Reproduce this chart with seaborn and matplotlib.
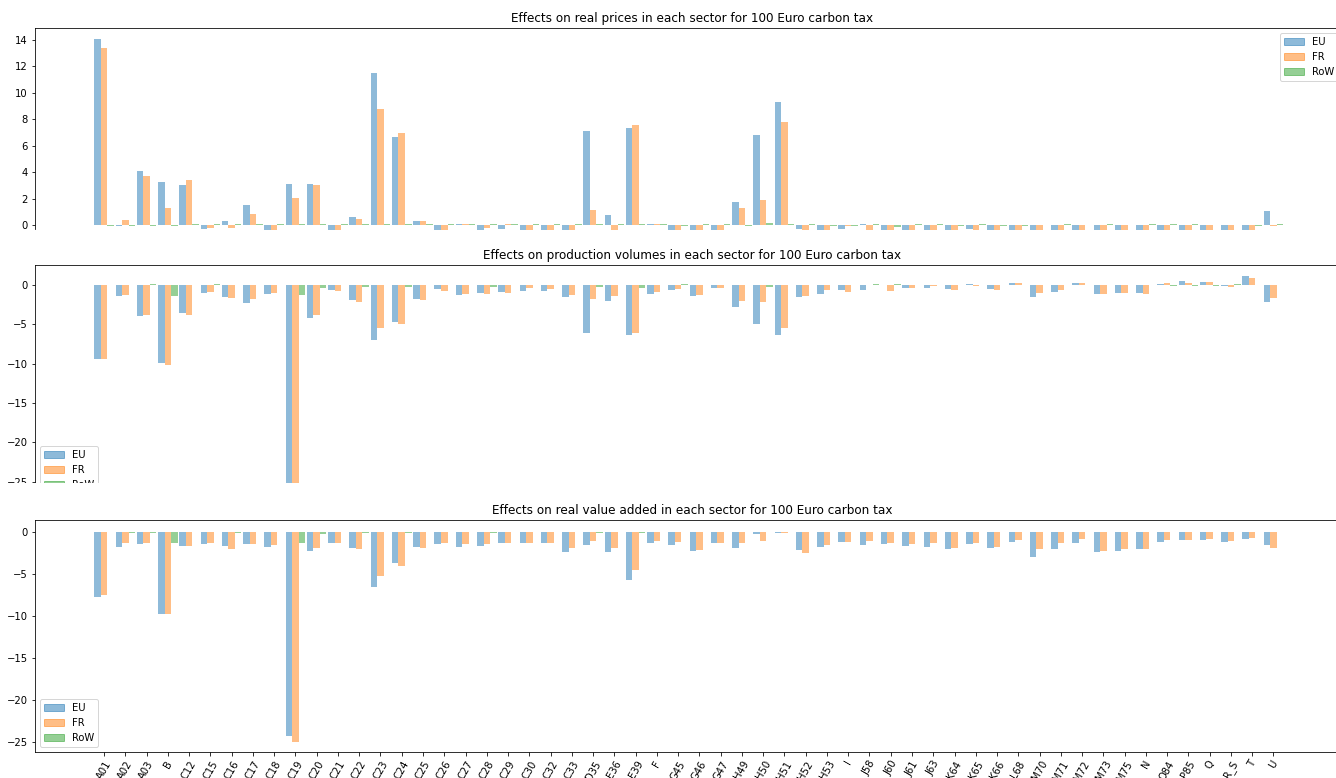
import numpy as np
import pandas as pd
import matplotlib
matplotlib.use('Agg')
import matplotlib.pyplot as plt
import matplotlib.patches as mpatches
import seaborn as sns

plt.rcParams['font.family'] = ['DejaVu Sans']

sectors = ['A01', 'A02', 'A03', 'B', 'C12', 'C15', 'C16', 'C17', 'C18', 'C19',
           'C20', 'C21', 'C22', 'C23', 'C24', 'C25', 'C26', 'C27', 'C28', 'C29',
           'C30', 'C32', 'C33', 'D35', 'E36', 'E39', 'F', 'G45', 'G46', 'G47',
           'H49', 'H50', 'H51', 'H52', 'H53', 'I', 'J58', 'J60', 'J61', 'J63',
           'K64', 'K65', 'K66', 'L68', 'M70', 'M71', 'M72', 'M73', 'M75', 'N',
           'O84', 'P85', 'Q', 'R_S', 'T', 'U']
regions = ['EU', 'FR', 'RoW']

# Effects on real prices
price_eu = [14.05, -0.05, 4.09, 3.25, 3.03, -0.3, 0.3, 1.51, -0.4, 3.1,
            3.1, -0.4, 0.6, 11.5, 6.66, 0.3, -0.4, 0.05, -0.4, -0.3,
            -0.4, -0.4, -0.4, 7.11, 0.76, 7.34, 0.05, -0.4, -0.4, -0.4,
            1.74, 6.81, 9.31, -0.3, -0.4, -0.3, 0.08, -0.4, -0.4, -0.4,
            -0.4, -0.3, -0.4, -0.4, -0.4, -0.4, -0.4, -0.4, -0.4, -0.4,
            -0.4, -0.4, -0.4, -0.4, -0.4, 1.06]
price_fr = [13.4, 0.38, 3.71, 1.29, 3.41, -0.22, -0.23, 0.83, -0.4, 2.04,
            3.03, -0.4, 0.45, 8.78, 6.96, 0.3, -0.4, 0.05, -0.22, 0.08,
            -0.4, -0.4, -0.4, 1.14, -0.4, 7.57, 0.05, -0.4, -0.4, -0.4,
            1.29, 1.89, 7.8, -0.4, -0.4, -0.05, -0.4, -0.4, -0.4, -0.4,
            -0.4, -0.4, -0.4, -0.4, -0.4, -0.4, -0.4, -0.4, -0.4, -0.4,
            -0.4, -0.4, -0.4, -0.4, -0.4, -0.05]
price_row = [-0.05, -0.05, -0.05, -0.05, 0.05, 0.05, 0.05, 0.05, 0.05, 0.05,
             0.05, 0.05, 0.05, 0.05, 0.05, 0.05, 0.05, 0.05, 0.05, 0.05,
             0.05, 0.05, 0.05, 0.05, 0.05, 0.05, 0.05, -0.05, 0.08, 0.08,
             -0.05, 0.15, 0.05, 0.05, -0.05, -0.05, 0.08, -0.15, 0.05, 0.08,
             -0.1, 0.05, -0.05, -0.05, 0.02, 0.08, -0.03, 0.08, -0.03, 0.08,
             0.08, 0.08, -0.03, -0.03, -0.1, 0.05]

# Effects on production volumes
prod_eu = [-9.4, -1.4, -3.94, -9.92, -3.56, -1.02, -1.53, -2.29, -1.14, -26.8,
           -4.19, -0.64, -1.9, -6.99, -4.7, -1.78, -0.5, -1.27, -1.02, -0.89,
           -0.76, -0.76, -1.53, -6.1, -2.03, -6.36, -1.14, -0.64, -1.4, -0.38,
           -2.8, -4.96, -6.36, -1.53, -1.14, -0.64, -0.64, -0.05, -0.38, -0.38,
           -0.5, 0.08, -0.5, 0.3, -1.5, -0.9, 0.2, -1.1, -1.0, -1.0,
           0.1, 0.5, 0.38, -0.12, 1.14, -2.16]
prod_fr = [-9.4, -1.27, -3.81, -10.17, -3.81, -0.89, -1.65, -1.78, -1.02, -26.5,
           -3.81, -0.76, -2.16, -5.47, -4.96, -1.9, -0.76, -1.14, -1.14, -1.02,
           -0.38, -0.5, -1.27, -1.78, -1.4, -6.1, -0.89, -0.5, -1.27, -0.38,
           -2.03, -2.16, -5.47, -1.4, -0.64, -0.89, -0.05, -0.76, -0.38, -0.08,
           -0.64, -0.08, -0.64, 0.3, -1.0, -0.6, 0.2, -1.1, -1.0, -1.14,
           0.25, 0.25, 0.38, -0.25, 0.89, -1.65]
prod_row = [-0.05, -0.05, 0.1, -1.4, -0.05, 0.1, -0.05, -0.05, -0.05, -1.27,
            -0.38, -0.05, -0.25, -0.05, -0.25, -0.05, -0.05, -0.05, -0.25, -0.05,
            -0.05, -0.05, -0.05, -0.2, -0.05, -0.34, -0.05, 0.1, -0.05, 0.05,
            -0.05, -0.25, -0.05, -0.05, -0.05, -0.05, 0.08, 0.08, 0.05, 0.05,
            -0.05, 0.05, 0.05, -0.05, -0.05, -0.05, -0.05, -0.05, -0.05, -0.05,
            -0.12, -0.12, -0.12, 0.1, -0.05, -0.05]

# Effects on real value added
va_eu = [-7.8, -1.8, -1.43, -9.8, -1.67, -1.43, -1.67, -1.43, -1.8, -24.3,
         -2.3, -1.4, -1.9, -6.6, -3.7, -1.8, -1.5, -1.8, -1.7, -1.4,
         -1.4, -1.4, -2.4, -1.6, -2.4, -5.8, -1.4, -1.6, -2.3, -1.4,
         -1.9, -0.3, -0.1, -2.2, -1.8, -1.2, -1.6, -1.5, -1.7, -1.8,
         -2.0, -1.5, -1.9, -1.2, -3.0, -2.0, -1.3, -2.4, -2.3, -2.1,
         -1.23, -1.0, -1.0, -1.23, -0.87, -1.6]
va_fr = [-7.5, -1.3, -1.3, -9.8, -1.67, -1.3, -2.0, -1.43, -1.55, -25.05,
         -1.9, -1.4, -2.0, -5.3, -4.1, -1.9, -1.4, -1.5, -1.5, -1.3,
         -1.3, -1.3, -1.9, -1.1, -1.9, -4.5, -1.1, -1.2, -2.2, -1.3,
         -1.4, -1.1, -0.1, -2.5, -1.6, -1.2, -1.1, -1.4, -1.5, -1.3,
         -1.9, -1.4, -1.8, -1.0, -2.1, -1.4, -0.9, -2.3, -2.0, -2.0,
         -1.0, -1.0, -0.87, -1.1, -0.75, -1.95]
va_row = [-0.05, -0.16, -0.1, -1.3, -0.05, -0.05, -0.1, -0.05, -0.05, -1.3,
          -0.3, -0.05, -0.1, -0.05, -0.1, -0.05, -0.05, -0.05, -0.1, -0.05,
          -0.05, -0.05, -0.05, -0.1, -0.05, -0.1, -0.05, -0.05, -0.05, -0.05,
          -0.05, -0.05, -0.05, -0.05, -0.05, -0.05, -0.05, -0.05, -0.05, -0.05,
          -0.05, -0.05, -0.05, -0.05, -0.05, -0.05, -0.05, -0.05, -0.05, -0.05,
          -0.05, -0.05, -0.05, -0.05, -0.05, -0.05]

colors = ['#1f77b4', '#ff7f0e', '#2ca02c']


def long_df(eu, fr, row):
    return pd.DataFrame({
        'sector': sectors * 3,
        'region': ['EU'] * len(sectors) + ['FR'] * len(sectors) + ['RoW'] * len(sectors),
        'value': list(eu) + list(fr) + list(row),
    })


W, H = 1336, 778
fig = plt.figure(figsize=(W / 72, H / 72), dpi=72)


def px_axes(top, bottom, left=35, right=1350):
    return fig.add_axes([left / W, 1 - bottom / H, (right - left) / W, (bottom - top) / H])


ax1 = px_axes(28, 229.5)
ax2 = px_axes(265, 483.5)
ax3 = px_axes(519.5, 752)

panels = [
    (ax1, long_df(price_eu, price_fr, price_row), 'Effects on real prices in each sector for 100 Euro carbon tax', (-0.34, 14.91)),
    (ax2, long_df(prod_eu, prod_fr, prod_row), 'Effects on production volumes in each sector for 100 Euro carbon tax', (-25.22, 2.54)),
    (ax3, long_df(va_eu, va_fr, va_row), 'Effects on real value added in each sector for 100 Euro carbon tax', (-26.2, 1.45)),
]

for ax, df, title, ylim in panels:
    sns.barplot(data=df, x='sector', y='value', hue='region', hue_order=regions,
                order=sectors, palette=colors, saturation=1, alpha=0.5,
                width=0.92, errorbar=None, legend=False, ax=ax)
    ax.set_title(title)
    ax.set_xlabel('')
    ax.set_ylabel('')
    ax.set_ylim(*ylim)
    ax.set_xlim(-3.25, 58.6)

handles = [mpatches.Patch(color=c, alpha=0.5, label=r) for c, r in zip(colors, regions)]

for ax in (ax1, ax2):
    ax.spines['bottom'].set_visible(False)
    ax.tick_params(axis='x', bottom=False, labelbottom=False)

ax1.set_yticks(np.arange(0, 15, 2))
ax2.set_yticks(np.arange(-25, 1, 5))
ax3.set_yticks(np.arange(-25, 1, 5))
ax3.tick_params(axis='x', labelrotation=60)

ax1.legend(handles=handles, loc='upper left', bbox_to_anchor=((1280 - 35) / 1315, (229.5 - 33) / 201.5),
           borderaxespad=0)
ax2.legend(handles=handles, loc='upper left', bbox_to_anchor=(5 / 1315, (483.5 - 446) / 218.5),
           borderaxespad=0)
ax3.legend(handles=handles, loc='lower left')

# the middle legend runs past the panel bottom and is cut off there
fig.add_artist(mpatches.Rectangle((0, 1 - 499 / H), 1, (499 - 483.5) / H,
                                  transform=fig.transFigure, facecolor='white',
                                  edgecolor='none', zorder=5))

fig.savefig('out.png', dpi=72)
